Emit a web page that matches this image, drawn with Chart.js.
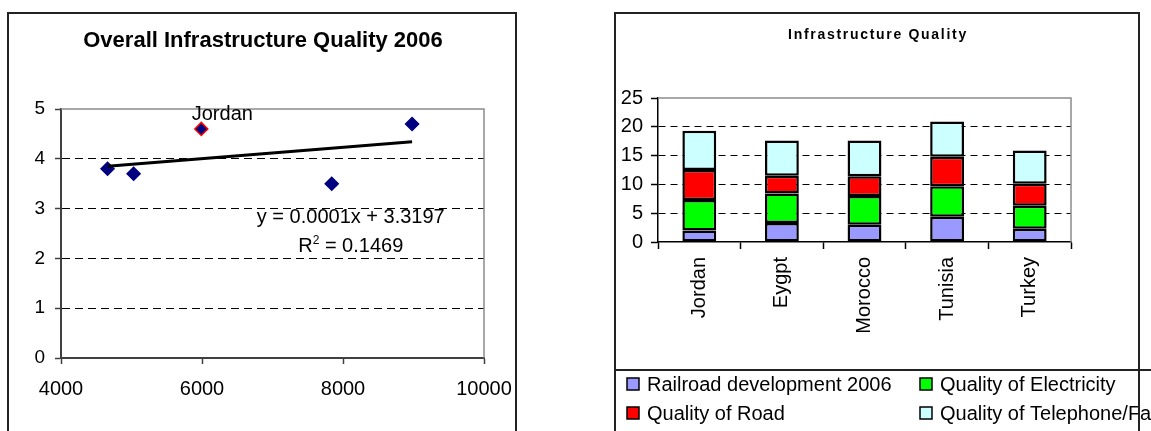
<!DOCTYPE html>
<html>
<head>
<meta charset="utf-8">
<script src="https://cdn.jsdelivr.net/npm/chart.js@4.4.1/dist/chart.umd.min.js"></script>
<style>
  body { margin: 0; width: 1151px; height: 431px; overflow: hidden; background: #fff; position: relative; }
  canvas { position: absolute; top: 0; }
  #scatterCanvas { left: 0; }
  #barCanvas { left: 600px; }
  .frame { position: absolute; border: 2px solid #222; pointer-events: none; }
</style>
</head>
<body>
<canvas id="scatterCanvas" width="530" height="431"></canvas>
<canvas id="barCanvas" width="551" height="431"></canvas>
<div class="frame" style="left:7px; top:12px; width:506px; height:500px;"></div>
<div class="frame" style="left:614px; top:12px; width:522px; height:500px;"></div>
<div style="position:absolute; left:615px; top:369px; width:540px; height:0; border-top:2px solid #222;"></div>
<script>
Chart.defaults.font.family = '"Liberation Sans", Arial, sans-serif';
Chart.defaults.color = '#000';

// Left chart: overall infrastructure quality vs GDP per capita
let gdpPerCapita = [4660, 5030, 5990, 7840, 8980];
let overallQuality = [3.8, 3.7, 4.6, 3.5, 4.7];
let pointNames = ['', '', 'Jordan', '', ''];
let equationText = 'y = 0.0001x + 3.3197';
let rSquaredText = '0.1469';

// Right chart: stacked infrastructure scores
let countries = ['Jordan', 'Eygpt', 'Morocco', 'Tunisia', 'Turkey'];
let railroad = [2.0, 3.3, 3.0, 4.4, 2.3];
let electricity = [5.3, 5.1, 5.0, 5.3, 4.0];
let road = [5.2, 3.1, 3.4, 5.1, 3.8];
let telephone = [6.8, 6.1, 6.2, 6.1, 5.8];

// least squares fit for the trendline
function linearFit(xs, ys) {
    let n = xs.length;
    let mx = xs.reduce((a, b) => a + b, 0) / n;
    let my = ys.reduce((a, b) => a + b, 0) / n;
    let sxy = 0, sxx = 0;
    for (let i = 0; i < n; i++) {
        sxy += (xs[i] - mx) * (ys[i] - my);
        sxx += (xs[i] - mx) * (xs[i] - mx);
    }
    let slope = sxy / sxx;
    return { slope: slope, intercept: my - slope * mx };
}

let fit = linearFit(gdpPerCapita, overallQuality);
let xMin = Math.min(...gdpPerCapita);
let xMax = Math.max(...gdpPerCapita);
let trendPoints = [
    { x: xMin, y: fit.intercept + fit.slope * xMin },
    { x: xMax, y: fit.intercept + fit.slope * xMax }
];
let scatterPoints = gdpPerCapita.map((x, i) => ({ x: x, y: overallQuality[i] }));

// gray top/right edge of the plot area
const plotFrame = {
    id: 'plotFrame',
    beforeDatasetsDraw(chart) {
        const { ctx, chartArea: a } = chart;
        ctx.save();
        ctx.strokeStyle = '#8c8c8c';
        ctx.lineWidth = 1.5;
        ctx.beginPath();
        ctx.moveTo(a.left, a.top);
        ctx.lineTo(a.right, a.top);
        ctx.lineTo(a.right, a.bottom);
        ctx.stroke();
        ctx.restore();
    }
};

const scatterText = {
    id: 'scatterText',
    afterDraw(chart) {
        const ctx = chart.ctx;
        const xs = chart.scales.x, ys = chart.scales.y;
        ctx.save();
        ctx.fillStyle = '#000';
        ctx.textAlign = 'center';
        ctx.textBaseline = 'middle';
        ctx.font = 'bold 22px "Liberation Sans", Arial, sans-serif';
        ctx.fillText('Overall Infrastructure Quality 2006', 263, 41);

        ctx.font = '20px "Liberation Sans", Arial, sans-serif';
        pointNames.forEach((name, i) => {
            if (!name) return;
            ctx.fillText(name, xs.getPixelForValue(gdpPerCapita[i]) + 21, ys.getPixelForValue(overallQuality[i]) - 14);
        });

        // trendline equation
        let ex = xs.getPixelForValue(8110);
        ctx.fillText(equationText, ex, ys.getPixelForValue(2.83));
        let ry = ys.getPixelForValue(2.23);
        let rest = ' = ' + rSquaredText;
        let wR = ctx.measureText('R').width;
        let wRest = ctx.measureText(rest).width;
        ctx.font = '12px "Liberation Sans", Arial, sans-serif';
        let w2 = ctx.measureText('2').width;
        let start = ex - (wR + w2 + wRest) / 2;
        ctx.textAlign = 'left';
        ctx.fillText('2', start + wR, ry - 6);
        ctx.font = '20px "Liberation Sans", Arial, sans-serif';
        ctx.fillText('R', start, ry);
        ctx.fillText(rest, start + wR + w2, ry);
        ctx.restore();
    }
};

let scatterChart = new Chart(document.getElementById('scatterCanvas'), {
    type: 'scatter',
    data: {
        datasets: [{
            label: 'Trend',
            data: trendPoints,
            showLine: true,
            borderColor: '#000',
            borderWidth: 3,
            pointRadius: 0,
            order: 0
        }, {
            label: 'Overall Infrastructure Quality 2006',
            data: scatterPoints,
            pointStyle: 'rectRot',
            pointRadius: 6.5,
            pointHoverRadius: 6.5,
            backgroundColor: '#000080',
            borderColor: pointNames.map(n => n ? '#ff0000' : '#000080'),
            borderWidth: 1.5,
            order: 1
        }]
    },
    options: {
        responsive: false,
        animation: false,
        devicePixelRatio: 1,
        layout: { padding: { top: 109, right: 46, bottom: 0, left: 0 } },
        plugins: { legend: { display: false }, tooltip: { enabled: false } },
        scales: {
            x: {
                type: 'linear',
                min: 4000,
                max: 10000,
                ticks: { stepSize: 2000, font: { size: 20 }, padding: 13, callback: v => String(v) },
                grid: { color: 'rgba(0,0,0,0)', tickColor: '#404040', tickLength: 6, tickWidth: 1.5 },
                border: { color: '#404040', width: 2 },
                afterFit: s => { s.height = 73; }
            },
            y: {
                min: 0,
                max: 5,
                ticks: { stepSize: 1, font: { size: 19 }, padding: 10 },
                grid: {
                    color: c => (c.tick && c.tick.value > 0 && c.tick.value < 5) ? '#000' : 'rgba(0,0,0,0)',
                    tickColor: '#404040',
                    tickLength: 6,
                    tickWidth: 1.5,
                    tickBorderDash: []
                },
                border: { color: '#404040', width: 2, dash: [8, 5] },
                afterFit: s => { s.width = 61; }
            }
        }
    },
    plugins: [plotFrame, scatterText]
});

// legend and title of the bar chart, drawn in a fixed 2 column grid
let legendCols = [27, 320];
let legendRows = [384, 413];

const barText = {
    id: 'barText',
    afterDraw(chart) {
        const ctx = chart.ctx;
        ctx.save();
        ctx.fillStyle = '#000';
        ctx.textAlign = 'center';
        ctx.textBaseline = 'middle';
        ctx.font = 'bold 14px "Liberation Sans", Arial, sans-serif';
        ctx.letterSpacing = '1.7px';
        ctx.fillText('Infrastructure Quality', 278, 35);
        ctx.letterSpacing = '0px';

        ctx.textAlign = 'left';
        ctx.font = '20px "Liberation Sans", Arial, sans-serif';
        chart.data.datasets.forEach((ds, i) => {
            let x = legendCols[i % 2];
            let y = legendRows[Math.floor(i / 2)];
            ctx.fillStyle = ds.backgroundColor;
            ctx.fillRect(x, y - 6, 12, 12);
            ctx.strokeStyle = '#000';
            ctx.lineWidth = 1.5;
            ctx.strokeRect(x, y - 6, 12, 12);
            ctx.fillStyle = '#000';
            ctx.fillText(ds.label, x + 20, y + 1);
        });
        ctx.restore();
    }
};

let barChart = new Chart(document.getElementById('barCanvas'), {
    type: 'bar',
    data: {
        labels: countries,
        datasets: [
            { label: 'Railroad development 2006', data: railroad, backgroundColor: '#9999ff' },
            { label: 'Quality of Electricity', data: electricity, backgroundColor: '#00ff00' },
            { label: 'Quality of Road', data: road, backgroundColor: '#ff0000' },
            { label: 'Quality of Telephone/Fax', data: telephone, backgroundColor: '#ccffff' }
        ]
    },
    options: {
        responsive: false,
        animation: false,
        devicePixelRatio: 1,
        datasets: {
            bar: { borderColor: '#000', borderWidth: 2.5, borderSkipped: false, barPercentage: 0.41, categoryPercentage: 1 }
        },
        layout: { padding: { top: 98, right: 80, bottom: 0, left: 0 } },
        plugins: { legend: { display: false }, tooltip: { enabled: false } },
        scales: {
            x: {
                stacked: true,
                ticks: { minRotation: 90, maxRotation: 90, autoSkip: false, font: { size: 20 }, padding: 8 },
                grid: { color: 'rgba(0,0,0,0)', tickColor: '#000', tickLength: 7, tickWidth: 1.5 },
                border: { color: '#000', width: 1.5 },
                afterFit: s => { s.height = 189; }
            },
            y: {
                stacked: true,
                min: 0,
                max: 25,
                ticks: { stepSize: 5, font: { size: 20 }, padding: 8 },
                grid: {
                    color: c => (c.tick && c.tick.value > 0 && c.tick.value < 25) ? '#000' : 'rgba(0,0,0,0)',
                    tickColor: '#000',
                    tickLength: 7,
                    tickWidth: 1.5,
                    tickBorderDash: []
                },
                border: { color: '#000', width: 1.5, dash: [7, 5] },
                afterFit: s => { s.width = 58; }
            }
        }
    },
    plugins: [plotFrame, barText]
});
</script>
</body>
</html>
